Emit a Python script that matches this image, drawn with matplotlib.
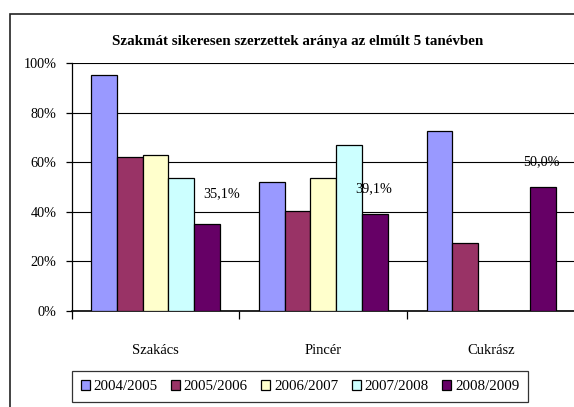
import matplotlib
matplotlib.use("Agg")
import matplotlib.pyplot as plt
import numpy as np
from matplotlib.patches import Rectangle

plt.rcParams['font.family'] = ['Liberation Serif', 'DejaVu Serif']

categories = ["Szakács", "Pincér", "Cukrász"]
series_names = ["2004/2005", "2005/2006", "2006/2007", "2007/2008", "2008/2009"]
v_2004 = [95.0, 52.1, 72.6]
v_2005 = [62.2, 40.3, 27.3]
v_2006 = [63.0, 53.7, 0.0]
v_2007 = [53.8, 66.8, 0.0]
v_2008 = [35.1, 39.1, 50.0]
series_values = [v_2004, v_2005, v_2006, v_2007, v_2008]
colors = ["#9999FF", "#993366", "#FFFFCC", "#CCFFFF", "#660066"]
label_texts = ["35,1%", "39,1%", "50,0%"]
label_offsets_px = [(14, 30), (-1, 25), (-1, 25)]

title = "Szakmát sikeresen szerzettek aránya az elmúlt 5 tanévben"

W, H = 574, 407
fig = plt.figure(figsize=(W / 100, H / 100), dpi=100)
fig.patch.set_facecolor("white")

# outer chart frame
fig.patches.append(Rectangle((10 / W, -0.2), 2.0, (H - 14) / H + 0.2,
                             transform=fig.transFigure, fill=False,
                             edgecolor="#222222", lw=1.2))

ax = fig.add_axes([71.7 / W, (H - 311) / H, (575 - 71.7) / W, (311 - 63) / H])
ax.set_facecolor("white")

n = len(series_values)
width = 1 / 6.5
x = np.arange(len(categories))
bars_last = None
for i, (vals, c, name) in enumerate(zip(series_values, colors, series_names)):
    pos = x + (i - (n - 1) / 2) * width
    heights = [v if v > 0 else np.nan for v in vals]
    ax.bar(pos, heights, width=width, color=c, edgecolor="black",
           linewidth=0.9, label=name, zorder=3)
    if i == n - 1:
        bars_last = (pos, vals)

pos, vals = bars_last
for px, v, t, off in zip(pos, vals, label_texts, label_offsets_px):
    ax.annotate(t, (px, v), xytext=off, textcoords="offset pixels",
                ha="center", va="center", fontsize=10.2, zorder=4)

ax.set_xlim(-0.5, len(categories) - 0.5)
ax.set_ylim(0, 100)
ax.set_yticks(np.arange(0, 101, 20))
ax.set_yticklabels([f"{int(v)}%" for v in np.arange(0, 101, 20)], fontsize=10.2)
ax.yaxis.grid(True, color="black", linewidth=0.8, zorder=0)
ax.set_axisbelow(True)

ax.set_xticks(x)
ax.set_xticklabels(categories, fontsize=10.5)
ax.set_xticks(np.arange(-0.5, len(categories), 1.0), minor=True)
ax.tick_params(axis="x", which="major", length=0, pad=24)
ax.tick_params(axis="x", which="minor", length=6, width=0.9, direction="out", color="black")
ax.tick_params(axis="y", length=4, width=0.9, direction="out", pad=7, color="black")

for s in ["top", "right"]:
    ax.spines[s].set_visible(False)
ax.spines["left"].set_linewidth(0.9)
ax.spines["bottom"].set_linewidth(1.2)

fig.text(298 / W, 1 - 42 / H, title, ha="center", va="center",
         fontsize=10.8, fontweight="bold")

leg = fig.legend(loc="center", bbox_to_anchor=(300 / W, (H - 386.5) / H),
                 ncol=5, frameon=True, fancybox=False, fontsize=10.8,
                 handlelength=0.6, handleheight=0.7, handletextpad=0.25,
                 columnspacing=0.9, borderpad=0.6, borderaxespad=0)
leg.get_frame().set_edgecolor("black")
leg.get_frame().set_linewidth(0.9)
for h in leg.legend_handles:
    h.set_edgecolor("black")
    h.set_linewidth(0.9)

fig.savefig("out.png", dpi=100)
